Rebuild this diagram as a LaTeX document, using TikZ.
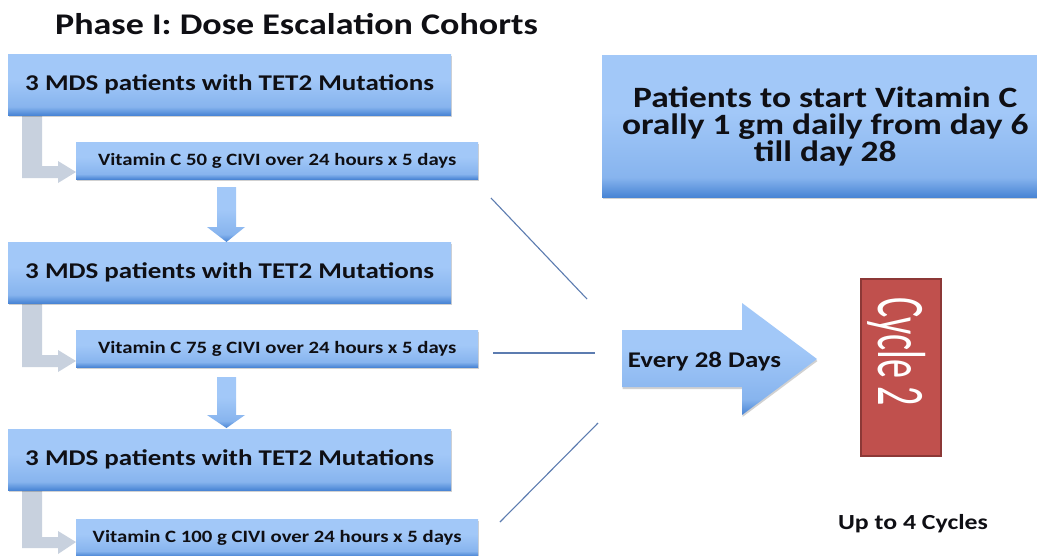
\documentclass[tikz,border=0pt]{standalone}
\usepackage{fontspec}
\setmainfont{Carlito}[FakeStretch=1.2]
\newfontfamily\cycfont{Carlito}[FakeStretch=0.56]
\usetikzlibrary{shadows}
\definecolor{bxL}{RGB}{162,200,248}
\definecolor{bxM}{RGB}{135,180,238}
\definecolor{bxD}{RGB}{72,132,212}
\definecolor{grayarr}{RGB}{200,209,222}
\definecolor{linec}{RGB}{92,124,176}
\definecolor{redbox}{RGB}{192,80,77}
\definecolor{redborder}{RGB}{140,56,54}
\definecolor{txt}{RGB}{15,15,20}
\pgfdeclareverticalshading{bxshade}{100bp}{color(0bp)=(bxD); color(25bp)=(bxD); color(32bp)=(bxM); color(55bp)=(bxL); color(75bp)=(bxL); color(100bp)=(bxL)}
\tikzset{
  bluebox/.style={shading=bxshade, draw=none, inner sep=0pt, anchor=north west, text=txt,
    drop shadow={shadow xshift=0.5pt, shadow yshift=-2pt, opacity=0.18, fill=black}},
  cohort/.style={bluebox, minimum width=443pt, minimum height=61pt, font=\bfseries\fontsize{22.5}{27}\selectfont},
  dosebox/.style={bluebox, minimum width=402pt, minimum height=37pt, font=\bfseries\fontsize{17.3}{20}\selectfont},
  blueshape/.style={shading=bxshade},
  elbow/.style={fill=grayarr},
  spoke/.style={draw=linec, line width=1.1pt},
  lbl/.style={inner sep=0pt, text=txt},
}
\begin{document}
\begin{tikzpicture}[x=1pt,y=-1pt]
\clip (0,0) rectangle (1037,555);
\fill[white] (0,0) rectangle (1037,555);

% title
\node[lbl, anchor=base west, font=\bfseries\fontsize{30}{36}\selectfont] (title) at (55,34) {Phase I: Dose Escalation Cohorts};

% elbow arrows (gray)
\path[elbow] (22,115) -- (42,115) -- (42,166) -- (58,166) -- (58,161) -- (76,172) -- (58,183) -- (58,178) -- (22,178) -- cycle;
\path[elbow] (22,302) -- (42,302) -- (42,355) -- (58,355) -- (58,350) -- (76,361) -- (58,372) -- (58,367) -- (22,367) -- cycle;
\path[elbow] (22,490) -- (42,490) -- (42,537) -- (58,537) -- (58,531) -- (76,542) -- (58,554) -- (58,548) -- (22,548) -- cycle;

% cohort boxes
\node[cohort] (c1) at (8,54) {3 MDS patients with TET2 Mutations};
\node[cohort] (c2) at (8,242) {3 MDS patients with TET2 Mutations};
\node[cohort] (c3) at (8,429) {3 MDS patients with TET2 Mutations};

% dose boxes
\node[dosebox] (d1) at (76,142) {Vitamin C 50 g CIVI over 24 hours x 5 days};
\node[dosebox] (d2) at (76,330) {Vitamin C 75 g CIVI over 24 hours x 5 days};
\node[dosebox] (d3) at (76,519) {Vitamin C 100 g CIVI over 24 hours x 5 days};

% down arrows
\path[blueshape] (217,187) -- (236,187) -- (236,227) -- (245,227) -- (226.5,242) -- (207,227) -- (217,227) -- cycle;
\path[blueshape] (217,377) -- (236,377) -- (236,415) -- (245,415) -- (226.5,428) -- (207,415) -- (217,415) -- cycle;

% right box
\node[bluebox, minimum width=446pt, minimum height=142pt, align=center,
      font=\bfseries\fontsize{29.5}{27}\selectfont] (rb) at (602,55)
      {Patients to start Vitamin C\\orally 1 gm daily from day 6\\till day 28};

% spokes
\coordinate (s1a) at (491,198); \coordinate (s1b) at (587,299);
\coordinate (s2a) at (493,353); \coordinate (s2b) at (595,353);
\coordinate (s3a) at (500,522); \coordinate (s3b) at (598,423);
\draw[spoke] (s1a) -- (s1b);
\draw[spoke] (s2a) -- (s2b);
\draw[spoke] (s3a) -- (s3b);

% big arrow
\path[blueshape, drop shadow={shadow xshift=0.5pt, shadow yshift=-2pt, opacity=0.18, fill=black}]
  (622,330) -- (742,330) -- (742,303) -- (817,359) -- (742,415) -- (742,387) -- (622,387) -- cycle;
\node[lbl, anchor=base, font=\bfseries\fontsize{22.4}{27}\selectfont] (every) at (704.5,367) {Every 28 Days};

% cycle box
\node[draw=redborder, line width=1.5pt, fill=redbox, minimum width=80pt, minimum height=177pt, anchor=north west, inner sep=0pt] (cyc) at (860,278) {};
\node[inner sep=0pt, text=white, rotate=-90, anchor=base west, font=\cycfont\fontsize{68}{68}\selectfont] (cyct) at (878,297) {Cycle 2};

% footer
\node[lbl, anchor=base, font=\bfseries\fontsize{21.5}{26}\selectfont] (up) at (913,529) {Up to 4 Cycles};
\end{tikzpicture}
\end{document}
